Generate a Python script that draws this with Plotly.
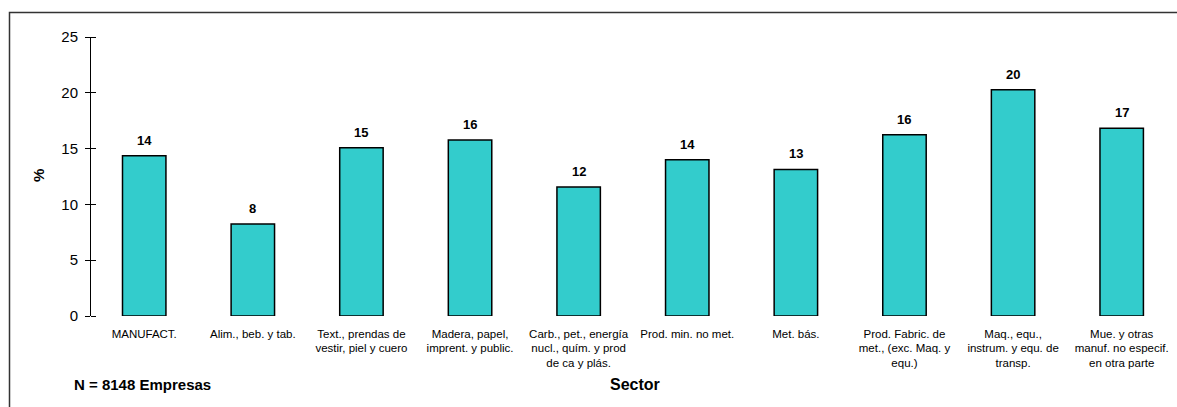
import plotly.graph_objects as go

categories = [
    "MANUFACT.",
    "Alim., beb. y tab.",
    "Text., prendas de<br>vestir, piel y cuero",
    "Madera, papel,<br>imprent. y public.",
    "Carb., pet., energía<br>nucl., quím. y prod<br>de ca y plás.",
    "Prod. min. no met.",
    "Met. bás.",
    "Prod. Fabric. de<br>met., (exc. Maq. y<br>equ.)",
    "Maq., equ.,<br>instrum. y equ. de<br>transp.",
    "Mue. y otras<br>manuf. no especif.<br>en otra parte",
]
values = [14.36, 8.24, 15.08, 15.77, 11.55, 14.01, 13.13, 16.25, 20.28, 16.82]
y_ticks = [0, 5, 10, 15, 20, 25]

W, H = 1177, 407
ml, mr, mt, mb = 91, 1, 37, 91
pw = W - ml - mr
ph = H - mt - mb

FONT = "Liberation Sans, Arial, sans-serif"


def px_x(p):
    return (p - ml) / pw


def px_y(p):
    return (H - mb - p) / ph


fig = go.Figure()
fig.add_trace(go.Bar(
    x=categories, y=values, width=0.4,
    marker=dict(color="#33CCCC", line=dict(color="black", width=1.5)),
    hoverinfo="skip",
))
fig.add_trace(go.Scatter(x=categories, y=values, yaxis="y2", mode="markers",
                         marker=dict(opacity=0), hoverinfo="skip"))

# value labels
for c, v in zip(categories, values):
    fig.add_annotation(x=c, y=v, text="<b>%d</b>" % round(v), showarrow=False,
                       xanchor="center", yanchor="bottom", yshift=6, xref="x", yref="y",
                       font=dict(family=FONT, size=13, color="black"))

fig.update_layout(
    width=W, height=H,
    margin=dict(l=ml, r=mr, t=mt, b=mb),
    paper_bgcolor="white", plot_bgcolor="white",
    showlegend=False,
    bargap=0.6,
    xaxis=dict(range=[-0.49, 9.5], showline=False, ticks="", showgrid=False,
               tickfont=dict(family=FONT, size=11.5, color="black"), tickangle=0,
               ticklabelstandoff=9, automargin=False),
    yaxis=dict(range=[0, 25], tickvals=y_ticks, showline=True, linecolor="black",
               linewidth=1, ticks="outside", ticklen=5, tickcolor="black",
               showgrid=False, zeroline=False, ticklabelstandoff=4,
               tickfont=dict(family=FONT, size=15, color="black"),
               automargin=False),
    yaxis2=dict(range=[0, 25], tickvals=y_ticks, overlaying="y", side="left",
                anchor="free", position=px_x(96), showline=False, ticks="outside",
                ticklen=5, tickcolor="black", tickwidth=1, showticklabels=False,
                showgrid=False, zeroline=False, automargin=False),
)

# y axis title
fig.add_annotation(text="<b>%</b>", x=px_x(38), y=px_y(176), xref="paper", yref="paper",
                   xanchor="center", yanchor="middle", showarrow=False, textangle=-90,
                   font=dict(family=FONT, size=15, color="black"))
# x axis title
fig.add_annotation(text="<b>Sector</b>", x=px_x(635), y=px_y(384), xref="paper", yref="paper",
                   xanchor="center", yanchor="middle", showarrow=False,
                   font=dict(family=FONT, size=16, color="black"))
# N note
fig.add_annotation(text="<b>N = 8148 Empresas</b>", x=px_x(72), y=px_y(384), xref="paper",
                   yref="paper", xanchor="left", yanchor="middle", showarrow=False,
                   font=dict(family=FONT, size=15, color="black"))

# outer frame
fig.add_shape(type="rect", xref="paper", yref="paper",
              x0=px_x(9.5), x1=px_x(1190), y0=px_y(420), y1=px_y(12.5),
              line=dict(color="#333333", width=1.5), fillcolor="rgba(0,0,0,0)", layer="above")

fig.write_html("out.html", config={"displayModeBar": False},
               post_script="document.body.style.margin='0';document.body.style.overflow='hidden';")
